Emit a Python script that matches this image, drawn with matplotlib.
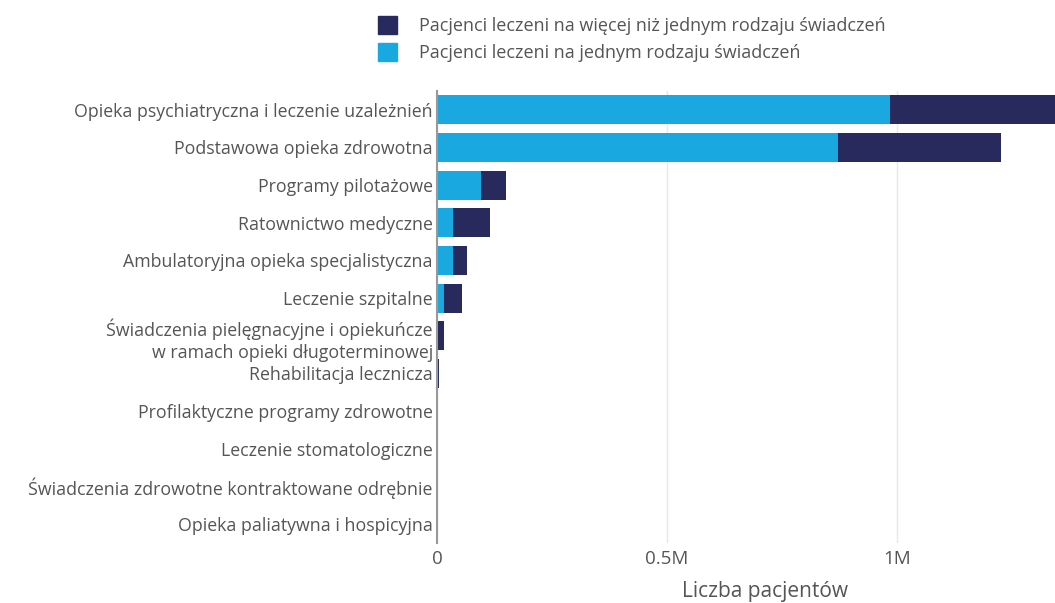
import matplotlib.pyplot as plt
from matplotlib.patches import Patch

categories = [
    'Opieka psychiatryczna i leczenie uzależnień',
    'Podstawowa opieka zdrowotna',
    'Programy pilotażowe',
    'Ratownictwo medyczne',
    'Ambulatoryjna opieka specjalistyczna',
    'Leczenie szpitalne',
    'Świadczenia pielęgnacyjne i opiekuńcze\nw ramach opieki długoterminowej',
    'Rehabilitacja lecznicza',
    'Profilaktyczne programy zdrowotne',
    'Leczenie stomatologiczne',
    'Świadczenia zdrowotne kontraktowane odrębnie',
    'Opieka paliatywna i hospicyjna',
]
# patients treated on one type of service
single = [985000, 872000, 96000, 35000, 35000, 15000, 2000, 1000, 1500, 1500, 1200, 1000]
# patients treated on more than one type of service
multi = [360000, 354000, 54000, 80000, 30000, 39000, 13000, 3000, 300, 300, 300, 200]

series_names = ['Pacjenci leczeni na więcej niż jednym rodzaju świadczeń',
                'Pacjenci leczeni na jednym rodzaju świadczeń']
xticks = [0, 500000, 1000000]
xtick_labels = ['0', '0.5M', '1M']

plt.rcParams['font.family'] = ['Open Sans', 'DejaVu Sans']
dark = '#282a5e'
light = '#1aa8e0'
txt = '#555555'

fig = plt.figure(figsize=(10.55, 6.03), dpi=100)
ax = fig.add_axes([0.4142, 0.0995, 0.5858, 0.7496])

y = list(range(len(categories)))
ax.barh(y, single, height=0.77, color=light, zorder=2)
ax.barh(y, multi, left=single, height=0.77, color=dark, zorder=2)

ax.set_ylim(len(categories) - 0.5, -0.5)
ax.set_xlim(0, 1343000)
ax.set_yticks(y)
ax.set_yticklabels(categories, fontsize=12.8, color=txt, ha='right', linespacing=1.3)
ax.set_xticks(xticks)
ax.set_xticklabels(xtick_labels, fontsize=13.5, color=txt)
ax.tick_params(axis='y', length=0, pad=3)
ax.tick_params(axis='x', length=0, pad=5)
ax.grid(axis='x', color='#e8e8e8', linewidth=1, zorder=0)
for s in ['top', 'right', 'bottom']:
    ax.spines[s].set_visible(False)
ax.spines['left'].set_color('#999999')
ax.spines['left'].set_linewidth(1.5)
ax.spines['left'].set_zorder(3)
ax.set_xlabel('Liczba pacjentów', fontsize=15, color=txt)
ax.xaxis.set_label_coords(0.531, -0.085)

handles = [Patch(color=dark), Patch(color=light)]
fig.legend(handles, series_names, loc='upper left', bbox_to_anchor=(0.3425, 1.0),
           frameon=False, fontsize=13, handlelength=1.1, handleheight=1.1,
           handletextpad=1.2, labelspacing=0.45, labelcolor=txt)

fig.savefig('out.png', dpi=100)
